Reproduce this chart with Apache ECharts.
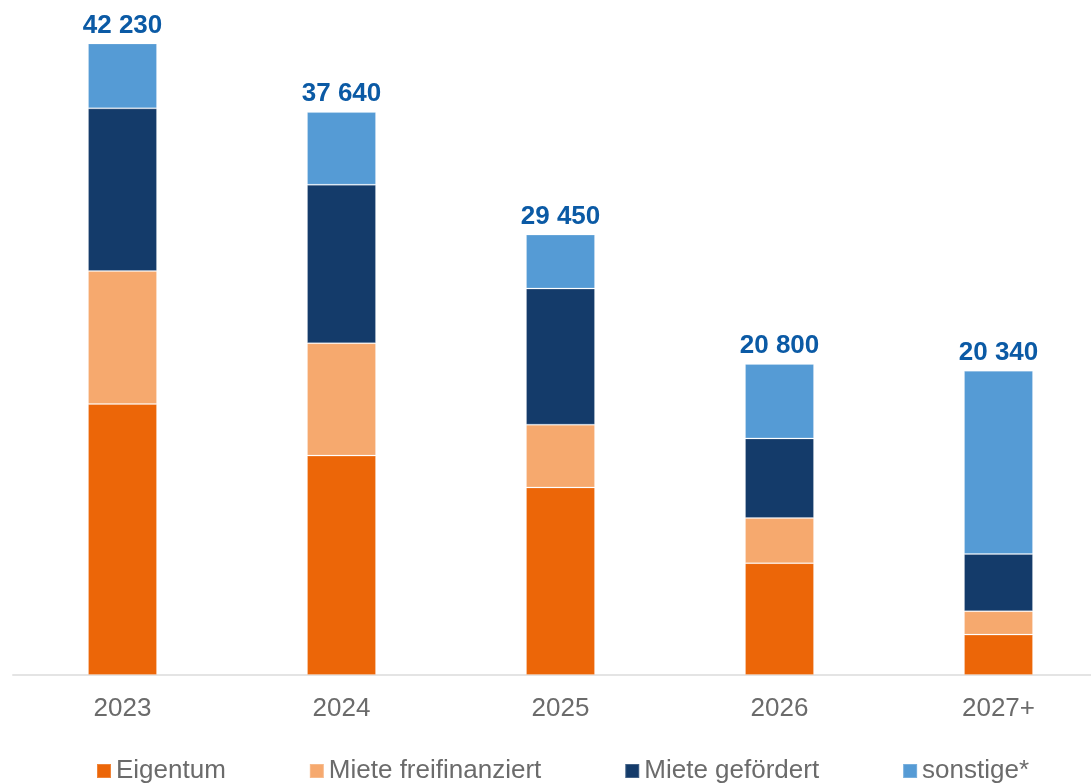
<!DOCTYPE html>
<html>
<head>
<meta charset="utf-8">
<title>Wohnungsbau nach Segment</title>
<script src="https://cdn.jsdelivr.net/npm/echarts@6/dist/echarts.min.js"></script>
<style>
  html, body { margin: 0; padding: 0; background: #ffffff; overflow: hidden; }
  #wrap { width: 1091px; height: 784px; overflow: hidden; }
  /* Zeichenfläche etwas breiter, damit die letzte Kategorie rechts angeschnitten ist */
  #chart { width: 1108px; height: 784px; }
</style>
</head>
<body>
<div id="wrap"><div id="chart"></div></div>
<script>
// Kategorien (Jahre)
const years = ['2023', '2024', '2025', '2026', '2027+'];

// Wohneinheiten je Segment
const eigentum         = [18120, 14670, 12540, 7480, 2700];
const mieteFrei        = [8890, 7520, 4200, 3010, 1570];
const mieteGefoerdert  = [10880, 10590, 9100, 5330, 3820];
const sonstige         = [4340, 4860, 3610, 4980, 12250];

const seriesNames = ['Eigentum', 'Miete freifinanziert', 'Miete gefördert', 'sonstige*'];
const seriesColors = ['#EC6608', '#F6A96E', '#143B6A', '#559BD5'];
const seriesData = [eigentum, mieteFrei, mieteGefoerdert, sonstige];

// Summe je Jahr für die Beschriftung über den Säulen
const totals = years.map((_, i) => seriesData.reduce((s, arr) => s + arr[i], 0));

function fmtThousands(v) {
  return String(v).replace(/\B(?=(\d{3})+(?!\d))/g, ' ');
}

const FONT = 'Liberation Sans, Arial, sans-serif';
const chart = echarts.init(document.getElementById('chart'), null, { renderer: 'canvas' });

const series = seriesData.map((data, idx) => {
  const s = {
    name: seriesNames[idx],
    type: 'bar',
    stack: 'total',
    data: data,
    barWidth: '31.5%',
    itemStyle: {
      color: seriesColors[idx],
      borderColor: 'rgba(255,255,255,0.2)',
      borderWidth: 1
    },
    emphasis: { disabled: true }
  };
  if (idx === seriesData.length - 1) {
    s.label = {
      show: true,
      position: 'top',
      distance: 5,
      color: '#0B5AA5',
      fontFamily: FONT,
      fontWeight: 'bold',
      fontSize: 26,
      formatter: p => fmtThousands(totals[p.dataIndex])
    };
  }
  return s;
});

chart.setOption({
  animation: false,
  backgroundColor: '#ffffff',
  textStyle: { fontFamily: FONT },
  grid: { left: 13, right: 0, top: 2, bottom: 109, containLabel: false },
  legend: {
    left: 96,
    top: 758,
    padding: 0,
    icon: 'rect',
    itemWidth: 14,
    itemHeight: 14,
    itemGap: 83,
    textStyle: {
      color: '#6b6b6b',
      fontSize: 26,
      fontFamily: FONT
    },
    data: seriesNames
  },
  xAxis: {
    type: 'category',
    data: years,
    axisLine: { show: true, lineStyle: { color: '#e4e4e4', width: 2 } },
    axisTick: { show: false },
    axisLabel: {
      color: '#6b6b6b',
      fontSize: 26,
      margin: 21,
      fontFamily: FONT
    }
  },
  yAxis: {
    type: 'value',
    min: 0,
    max: 45000,
    show: false,
    splitLine: { show: false }
  },
  series: series
});
</script>
</body>
</html>
